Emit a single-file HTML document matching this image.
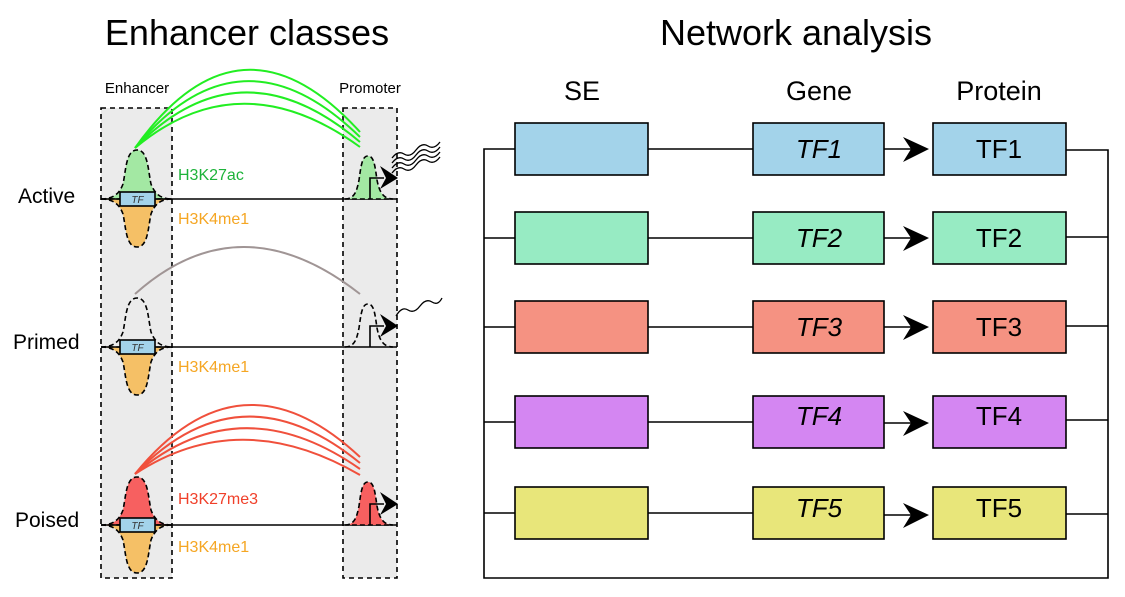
<!DOCTYPE html>
<html><head><meta charset="utf-8"><style>
html,body{margin:0;padding:0;background:#fff;}
svg{display:block;font-family:"Liberation Sans",sans-serif;}
</style></head><body>
<svg width="1125" height="597" viewBox="0 0 1125 597" xmlns="http://www.w3.org/2000/svg">
<text x="247" y="45" font-size="36" text-anchor="middle">Enhancer classes</text>
<text x="796" y="45" font-size="36" text-anchor="middle">Network analysis</text>

<rect x="101" y="108" width="71" height="470" fill="#ebebeb" stroke="#000" stroke-width="1.6" stroke-dasharray="5,4"/>
<rect x="343" y="108" width="54" height="470" fill="#ebebeb" stroke="#000" stroke-width="1.6" stroke-dasharray="5,4"/>
<text x="137" y="93" font-size="15" text-anchor="middle">Enhancer</text>
<text x="370" y="93" font-size="15" text-anchor="middle">Promoter</text>

<text x="18" y="203" font-size="21">Active</text>
<text x="13" y="349" font-size="21">Primed</text>
<text x="15" y="527" font-size="21">Poised</text>

<!-- Active -->
<g fill="none" stroke="#22ee22" stroke-width="2">
<path d="M135,148 Q240,0 360,132"/>
<path d="M135,148 Q240,20 360,137"/>
<path d="M135,148 Q240,40 360,142"/>
<path d="M135,148 Q240,60 360,147"/>
</g>
<path d="M101,199 C115,199 120,192 123,184 C126,170 126,150 137,150 C148,150 148,170 151,184 C154,192 159,199 172,199 Z" fill="#a3e8a3" stroke="#000" stroke-width="1.6" stroke-dasharray="5,3"/>
<path d="M101,199 C115,199 120,206 123,214 C126,228 126,247 137,247 C148,247 148,228 151,214 C154,206 159,199 172,199 Z" fill="#f5c066" stroke="#000" stroke-width="1.6" stroke-dasharray="5,3"/>
<line x1="101" y1="199" x2="397" y2="199" stroke="#000" stroke-width="1.6"/>
<rect x="120" y="192" width="35" height="14" fill="#a3d3ea" stroke="#000" stroke-width="1.6"/>
<text x="137.5" y="203" font-size="10" font-style="italic" text-anchor="middle" fill="#333">TF</text>
<text x="178" y="180" font-size="16" fill="#1db33a">H3K27ac</text>
<text x="178" y="224" font-size="16" fill="#f5a623">H3K4me1</text>
<path d="M345,199 C355,199 357,190 359,180 C361,166 362,156 368,156 C374,156 375,166 377,180 C379,190 382,199 393,199 Z" fill="#a3e8a3" stroke="#000" stroke-width="1.6" stroke-dasharray="5,3"/>
<path d="M370,199 V178 H384" fill="none" stroke="#000" stroke-width="1.6"/>
<path d="M380,166 L398,178 L380,189 L386,178 Z" fill="#000"/>
<g fill="none" stroke="#000" stroke-width="1.3">
<path d="M392,158 q6,-8 12,-4 t12,-4 t12,-4 t12,-4"/>
<path d="M392,163 q6,-8 12,-4 t12,-4 t12,-4 t12,-4"/>
<path d="M392,168 q6,-8 12,-4 t12,-4 t12,-4 t12,-4"/>
<path d="M392,173 q6,-8 12,-4 t12,-4 t12,-4 t12,-4"/>
</g>

<!-- Primed -->
<path d="M135,294 Q240,200 360,294" fill="none" stroke="#a09595" stroke-width="2"/>
<path d="M101,347 C115,347 120,340 123,332 C126,318 126,298 137,298 C148,298 148,318 151,332 C154,340 159,347 172,347" fill="none" stroke="#000" stroke-width="1.6" stroke-dasharray="5,3"/>
<path d="M101,347 C115,347 120,354 123,362 C126,376 126,395 137,395 C148,395 148,376 151,362 C154,354 159,347 172,347 Z" fill="#f5c066" stroke="#000" stroke-width="1.6" stroke-dasharray="5,3"/>
<line x1="101" y1="347" x2="397" y2="347" stroke="#000" stroke-width="1.6"/>
<rect x="120" y="340" width="35" height="14" fill="#a3d3ea" stroke="#000" stroke-width="1.6"/>
<text x="137.5" y="351" font-size="10" font-style="italic" text-anchor="middle" fill="#333">TF</text>
<text x="178" y="372" font-size="16" fill="#f5a623">H3K4me1</text>
<path d="M345,347 C355,347 357,338 359,328 C361,314 362,304 368,304 C374,304 375,314 377,328 C379,338 382,347 393,347" fill="none" stroke="#000" stroke-width="1.6" stroke-dasharray="5,3"/>
<path d="M370,347 V326 H384" fill="none" stroke="#000" stroke-width="1.6"/>
<path d="M380,314 L398,326 L380,337 L386,326 Z" fill="#000"/>
<path d="M396,316 q6,-10 12,-6 t12,-4 t12,-4 t10,-4" fill="none" stroke="#000" stroke-width="1.3"/>

<!-- Poised -->
<g fill="none" stroke="#f0503c" stroke-width="2">
<path d="M135,474 Q240,345 360,457"/>
<path d="M135,474 Q240,365 360,463"/>
<path d="M135,474 Q240,385 360,469"/>
<path d="M135,474 Q240,405 360,475"/>
</g>
<path d="M101,525 C115,525 120,518 123,510 C126,496 126,477 137,477 C148,477 148,496 151,510 C154,518 159,525 172,525 Z" fill="#f76060" stroke="#000" stroke-width="1.6" stroke-dasharray="5,3"/>
<path d="M101,525 C115,525 120,532 123,540 C126,554 126,573 137,573 C148,573 148,554 151,540 C154,532 159,525 172,525 Z" fill="#f5c066" stroke="#000" stroke-width="1.6" stroke-dasharray="5,3"/>
<line x1="101" y1="525" x2="397" y2="525" stroke="#000" stroke-width="1.6"/>
<rect x="120" y="518" width="35" height="14" fill="#a3d3ea" stroke="#000" stroke-width="1.6"/>
<text x="137.5" y="529" font-size="10" font-style="italic" text-anchor="middle" fill="#333">TF</text>
<text x="178" y="504" font-size="16" fill="#f0402a">H3K27me3</text>
<text x="178" y="552" font-size="16" fill="#f5a623">H3K4me1</text>
<path d="M345,525 C355,525 357,516 359,506 C361,492 362,482 368,482 C374,482 375,492 377,506 C379,516 382,525 393,525 Z" fill="#f76060" stroke="#000" stroke-width="1.6" stroke-dasharray="5,3"/>
<path d="M370,525 V504 H384" fill="none" stroke="#000" stroke-width="1.6"/>
<path d="M380,492 L398,504 L380,515 L386,504 Z" fill="#000"/>

<!-- Network -->
<text x="582" y="100" font-size="27" text-anchor="middle">SE</text>
<text x="819" y="100" font-size="27" text-anchor="middle">Gene</text>
<text x="999" y="100" font-size="27" text-anchor="middle">Protein</text>
<g stroke="#000" stroke-width="1.6" fill="none">
<path d="M515,149 H484 V578 H1108 V150 H1066"/>
<line x1="484" y1="238" x2="515" y2="238"/>
<line x1="484" y1="327" x2="515" y2="327"/>
<line x1="484" y1="422" x2="515" y2="422"/>
<line x1="484" y1="513" x2="515" y2="513"/>
<line x1="1066" y1="237" x2="1108" y2="237"/>
<line x1="1066" y1="326" x2="1108" y2="326"/>
<line x1="1066" y1="420" x2="1108" y2="420"/>
<line x1="1066" y1="514" x2="1108" y2="514"/>
</g>
<g stroke="#000" stroke-width="1.6">
<line x1="648" y1="149" x2="753" y2="149"/>
<line x1="884" y1="149" x2="912" y2="149"/>
<path d="M903,137 L929,149 L903,162 L911,149 Z" fill="#000" stroke="none"/>
<rect x="515" y="123" width="133" height="52" fill="#a3d3ea"/>
<rect x="753" y="123" width="131" height="52" fill="#a3d3ea"/>
<rect x="933" y="123" width="133" height="52" fill="#a3d3ea"/>
<line x1="648" y1="238" x2="753" y2="238"/>
<line x1="884" y1="238" x2="912" y2="238"/>
<path d="M903,226 L929,238 L903,251 L911,238 Z" fill="#000" stroke="none"/>
<rect x="515" y="212" width="133" height="52" fill="#97ebc3"/>
<rect x="753" y="212" width="131" height="52" fill="#97ebc3"/>
<rect x="933" y="212" width="133" height="52" fill="#97ebc3"/>
<line x1="648" y1="327" x2="753" y2="327"/>
<line x1="884" y1="327" x2="912" y2="327"/>
<path d="M903,315 L929,327 L903,340 L911,327 Z" fill="#000" stroke="none"/>
<rect x="515" y="301" width="133" height="52" fill="#f59282"/>
<rect x="753" y="301" width="131" height="52" fill="#f59282"/>
<rect x="933" y="301" width="133" height="52" fill="#f59282"/>
<line x1="648" y1="422" x2="753" y2="422"/>
<line x1="884" y1="423" x2="912" y2="423"/>
<path d="M903,411 L929,423 L903,436 L911,423 Z" fill="#000" stroke="none"/>
<rect x="515" y="396" width="133" height="52" fill="#d486f2"/>
<rect x="753" y="396" width="131" height="52" fill="#d486f2"/>
<rect x="933" y="396" width="133" height="52" fill="#d486f2"/>
<line x1="648" y1="513" x2="753" y2="513"/>
<line x1="884" y1="515" x2="912" y2="515"/>
<path d="M903,503 L929,515 L903,528 L911,515 Z" fill="#000" stroke="none"/>
<rect x="515" y="487" width="133" height="52" fill="#e8e67a"/>
<rect x="753" y="487" width="131" height="52" fill="#e8e67a"/>
<rect x="933" y="487" width="133" height="52" fill="#e8e67a"/>
</g>
<g font-size="26" text-anchor="middle" fill="#000">
<text x="819" y="158" font-style="italic">TF1</text>
<text x="999" y="158">TF1</text>
<text x="819" y="247" font-style="italic">TF2</text>
<text x="999" y="247">TF2</text>
<text x="819" y="336" font-style="italic">TF3</text>
<text x="999" y="336">TF3</text>
<text x="819" y="425" font-style="italic">TF4</text>
<text x="999" y="425">TF4</text>
<text x="819" y="517" font-style="italic">TF5</text>
<text x="999" y="517">TF5</text>
</g>
</svg>
</body></html>
